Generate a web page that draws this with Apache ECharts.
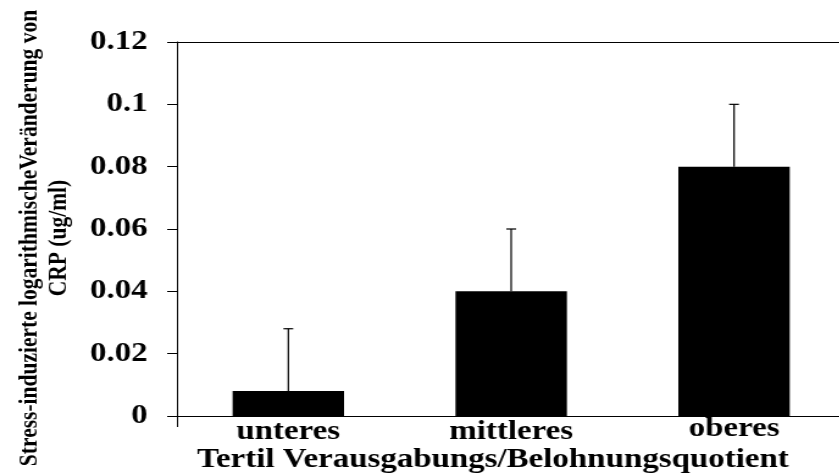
<!DOCTYPE html>
<html>
<head>
<meta charset="utf-8">
<script src="https://cdn.jsdelivr.net/npm/echarts@6/dist/echarts.min.js"></script>
<style>
  html, body { margin: 0; padding: 0; background: #fff; overflow: hidden; }
  /* the whole figure is drawn narrow and widened horizontally */
  #chart { width: 688px; height: 475px; transform: scaleX(1.22); transform-origin: 0 0; }
</style>
</head>
<body>
<div id="chart"></div>
<script>
const categories = ['unteres', 'mittleres', 'oberes'];
const meanValues = [0.008, 0.04, 0.08];
const errorValues = [0.02, 0.02, 0.02];
const yTicks = { min: 0, max: 0.12, step: 0.02 };
const yTitle = 'Stress-induzierte logarithmischeVeränderung von\nCRP (ug/ml)';
const xTitle = 'Tertil Verausgabungs/Belohnungsquotient';

const serif = '"Liberation Serif", "Times New Roman", serif';

const chart = echarts.init(document.getElementById('chart'));

chart.setOption({
  animation: false,
  backgroundColor: '#fff',
  grid: { left: 145, right: -5, top: 42, bottom: 59, containLabel: false, outerBoundsMode: 'none' },
  xAxis: [{
    type: 'category',
    data: categories.map((c, i) => ({
      value: c,
      textStyle: { padding: [i === 2 ? 0 : 3, 0, 0, 0] }
    })),
    boundaryGap: true,
    axisLine: { show: true, lineStyle: { color: '#000', width: 1.2 } },
    axisTick: { show: true, length: 11, interval: (i) => i === 0, lineStyle: { color: '#000', width: 1 } },
    axisLabel: { color: '#000', fontFamily: serif, fontWeight: 'bold', fontSize: 27, margin: 0 },
    name: xTitle,
    nameLocation: 'middle',
    nameGap: 31,
    nameMoveOverlap: false,
    nameTextStyle: { color: '#000', fontFamily: serif, fontWeight: 'bold', fontSize: 27, padding: [0, 30, 0, 0] }
  }, {
    type: 'category',
    position: 'top',
    data: categories,
    axisLine: { show: true, lineStyle: { color: '#000', width: 1.2 } },
    axisTick: { show: false },
    axisLabel: { show: false }
  }],
  yAxis: {
    type: 'value',
    min: yTicks.min,
    max: yTicks.max,
    interval: yTicks.step,
    splitLine: { show: false },
    axisLine: { show: true, lineStyle: { color: '#000', width: 1 } },
    axisTick: { show: true, inside: false, length: 8, lineStyle: { color: '#000', width: 1 } },
    axisLabel: {
      color: '#000', fontFamily: serif, fontWeight: 'bold', fontSize: 27, margin: 24,
      formatter: (v) => String(+v.toFixed(2))
    },
    name: yTitle,
    nameLocation: 'middle',
    nameGap: 85,
    nameRotate: 90,
    nameMoveOverlap: false,
    nameTextStyle: {
      color: '#000', fontFamily: serif, fontWeight: 'bold', fontSize: 21.5, lineHeight: 24,
      align: 'center', padding: [0, 18, 0, 0]
    }
  },
  series: [{
    type: 'bar',
    data: meanValues,
    barWidth: '50%',
    itemStyle: { color: '#000' },
    z: 2
  }, {
    type: 'custom',
    data: meanValues.map((v, i) => [i, v, v + errorValues[i]]),
    encode: { x: 0, y: [1, 2] },
    z: 3,
    renderItem: (params, api) => {
      const base = api.coord([api.value(0), api.value(1)]);
      const top = api.coord([api.value(0), api.value(2)]);
      const half = 4;
      const style = { stroke: '#000', lineWidth: 1.2 };
      return {
        type: 'group',
        children: [
          { type: 'line', shape: { x1: base[0], y1: base[1], x2: top[0], y2: top[1] }, style },
          { type: 'line', shape: { x1: top[0] - half, y1: top[1], x2: top[0] + half, y2: top[1] }, style }
        ]
      };
    }
  }]
});
</script>
</body>
</html>
